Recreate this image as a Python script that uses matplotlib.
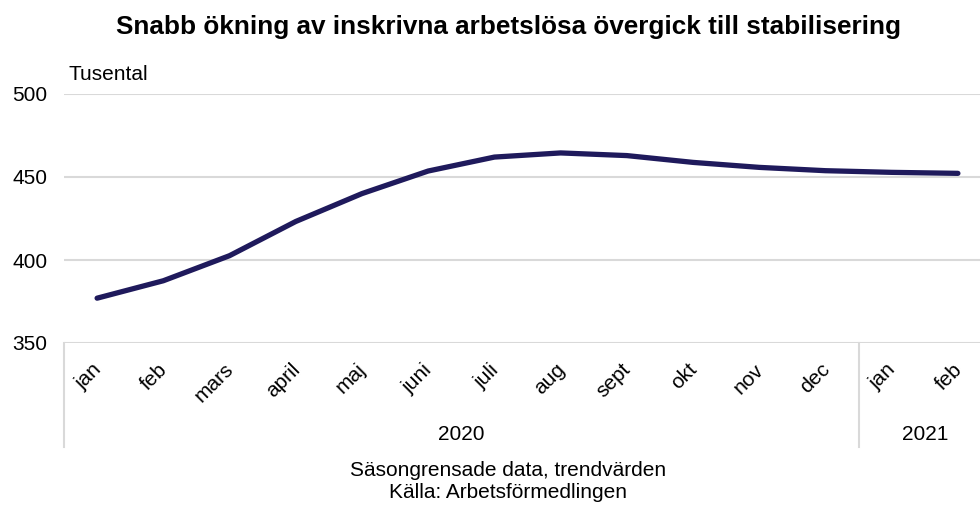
import numpy as np
import matplotlib
matplotlib.use('Agg')
import matplotlib.pyplot as plt
from matplotlib.transforms import blended_transform_factory

plt.rcParams['font.family'] = ['Liberation Sans', 'DejaVu Sans']

# data (tusental), seasonally adjusted trend
months = ['jan', 'feb', 'mars', 'april', 'maj', 'juni', 'juli', 'aug',
          'sept', 'okt', 'nov', 'dec', 'jan', 'feb']
years = ['2020', '2021']
months_per_year = [12, 2]
values = [377.0, 387.5, 402.6, 423.2, 440.0, 453.6, 462.0, 464.5,
          462.9, 458.8, 455.8, 453.8, 452.8, 452.2]

LINE_COLOR = '#1f1a5c'
GRID_COLOR = '#d9d9d9'
TXT = '#000000'
FS = 15

W, H = 980, 509
fig = plt.figure(figsize=(W / 100, H / 100), dpi=100)
fig.patch.set_facecolor('white')

# plot area in pixels: left 64, right 991 (runs past the image), top 94, bottom 343
L, R, T, B = 64, 991, 94, 343
ax = fig.add_axes([L / W, 1 - B / H, (R - L) / W, (B - T) / H])
ax.set_xlim(-0.5, len(months) - 0.5)
ax.set_ylim(350, 500)
ax.set_yticks([350, 400, 450, 500])
ax.grid(axis='y', color=GRID_COLOR, linewidth=1.5)
ax.set_axisbelow(True)
for sp in ax.spines.values():
    sp.set_visible(False)
ax.tick_params(axis='y', length=0, labelsize=FS, pad=12, colors=TXT)
ax.set_xticks([])

x = np.arange(len(months))
ax.plot(x, values, color=LINE_COLOR, linewidth=3.8, solid_capstyle='round')

# category axis: month labels, year groups, separators
tr = blended_transform_factory(ax.transData, ax.transAxes)
ax_h = B - T
for i, m in enumerate(months):
    ax.text(i + 0.12, -17 / ax_h, m, transform=tr, rotation=45,
            ha='right', va='top', fontsize=FS, color=TXT, clip_on=False)

start = 0
for yr, n in zip(years, months_per_year):
    ax.text(start + (n - 1) / 2, -(434 - B) / ax_h, yr, transform=tr,
            ha='center', va='center', fontsize=FS, color=TXT, clip_on=False)
    ax.plot([start - 0.5, start - 0.5], [0, -(447 - B) / ax_h], transform=tr,
            color=GRID_COLOR, linewidth=1.5, clip_on=False)
    start += n

fig.text(508 / W, 1 - 27 / H,
         'Snabb ökning av inskrivna arbetslösa övergick till stabilisering',
         ha='center', va='center', fontsize=18.8, fontweight='bold', color=TXT)
fig.text(68 / W, 1 - 74 / H, 'Tusental', ha='left', va='center',
         fontsize=FS, color=TXT)
fig.text(508 / W, 1 - 470 / H, 'Säsongrensade data, trendvärden',
         ha='center', va='center', fontsize=FS, color=TXT)
fig.text(508 / W, 1 - 493 / H, 'Källa: Arbetsförmedlingen',
         ha='center', va='center', fontsize=FS, color=TXT)

fig.savefig('out.png', dpi=100, facecolor='white')
